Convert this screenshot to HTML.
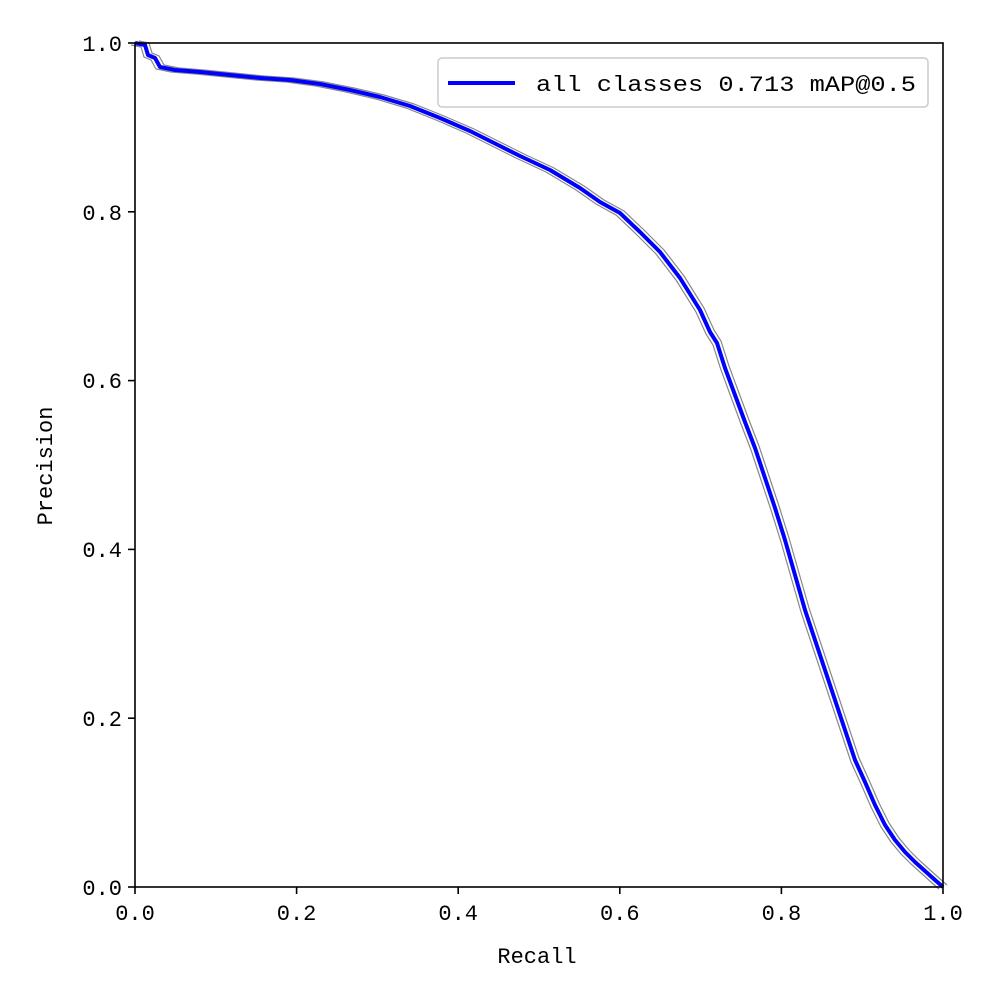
<!DOCTYPE html>
<html><head><meta charset="utf-8"><style>body{margin:0;background:#fff}svg{display:block}</style></head>
<body>
<svg width="1000" height="1000" xmlns="http://www.w3.org/2000/svg" font-family="'WenQuanYi Zen Hei Mono','WenQuanYi Zen Hei','Liberation Mono',monospace" font-size="22">
<rect width="1000" height="1000" fill="#fff"/>
<g fill="none" stroke="#888" stroke-width="1.2">
<polyline transform="translate(-4,2)" points="135,43 145,45 148,55 155,58 160,67 175,70 200,72 230,75 260,78 290,80 320,84 350,90 380,97 410,106 440,118 470,131 500,146 520,156 550,170 580,188 600,202 620,213 640,232 660,252 680,278 700,310 710,332 717,343 725,368 735,395 745,422 755,448 765,478 775,508 785,540 795,575 805,610 815,640 825,670 835,700 845,730 855,760 865,782 875,805 885,825 895,840 905,852 915,862 925,871 935,880 943,887"/>
<polyline transform="translate(4,-2)" points="135,43 145,45 148,55 155,58 160,67 175,70 200,72 230,75 260,78 290,80 320,84 350,90 380,97 410,106 440,118 470,131 500,146 520,156 550,170 580,188 600,202 620,213 640,232 660,252 680,278 700,310 710,332 717,343 725,368 735,395 745,422 755,448 765,478 775,508 785,540 795,575 805,610 815,640 825,670 835,700 845,730 855,760 865,782 875,805 885,825 895,840 905,852 915,862 925,871 935,880 943,887"/>
</g>
<polyline fill="none" stroke="#0000ff" stroke-width="4" stroke-linejoin="round" points="135,43 145,45 148,55 155,58 160,67 175,70 200,72 230,75 260,78 290,80 320,84 350,90 380,97 410,106 440,118 470,131 500,146 520,156 550,170 580,188 600,202 620,213 640,232 660,252 680,278 700,310 710,332 717,343 725,368 735,395 745,422 755,448 765,478 775,508 785,540 795,575 805,610 815,640 825,670 835,700 845,730 855,760 865,782 875,805 885,825 895,840 905,852 915,862 925,871 935,880 943,887"/>
<rect x="135" y="43" width="808" height="844" fill="none" stroke="#000" stroke-width="1.6"/>
<g stroke="#000" stroke-width="1.6">
<line x1="135" y1="887" x2="135" y2="894"/><line x1="296.6" y1="887" x2="296.6" y2="894"/><line x1="458.2" y1="887" x2="458.2" y2="894"/><line x1="619.8" y1="887" x2="619.8" y2="894"/><line x1="781.4" y1="887" x2="781.4" y2="894"/><line x1="943" y1="887" x2="943" y2="894"/>
<line x1="128" y1="887" x2="135" y2="887"/><line x1="128" y1="718.2" x2="135" y2="718.2"/><line x1="128" y1="549.4" x2="135" y2="549.4"/><line x1="128" y1="380.6" x2="135" y2="380.6"/><line x1="128" y1="211.8" x2="135" y2="211.8"/><line x1="128" y1="43" x2="135" y2="43"/>
</g>
<g text-anchor="middle">
<text x="135" y="920">0.0</text><text x="296.6" y="920">0.2</text><text x="458.2" y="920">0.4</text><text x="619.8" y="920">0.6</text><text x="781.4" y="920">0.8</text><text x="943" y="920">1.0</text>
<text x="537" y="963">Recall</text>
</g>
<g text-anchor="end">
<text x="122" y="895">0.0</text><text x="122" y="726">0.2</text><text x="122" y="557">0.4</text><text x="122" y="388">0.6</text><text x="122" y="220">0.8</text><text x="122" y="51">1.0</text>
</g>
<text transform="translate(52,466) rotate(-90)" text-anchor="middle">Precision</text>
<rect x="438" y="58" width="490" height="49" rx="4" fill="#fff" fill-opacity="0.8" stroke="#ccc" stroke-width="1.5"/>
<line x1="448" y1="83" x2="515" y2="83" stroke="#0000ff" stroke-width="4"/>
<text x="536" y="91" textLength="380" lengthAdjust="spacingAndGlyphs">all classes 0.713 mAP@0.5</text>
</svg>
</body></html>
